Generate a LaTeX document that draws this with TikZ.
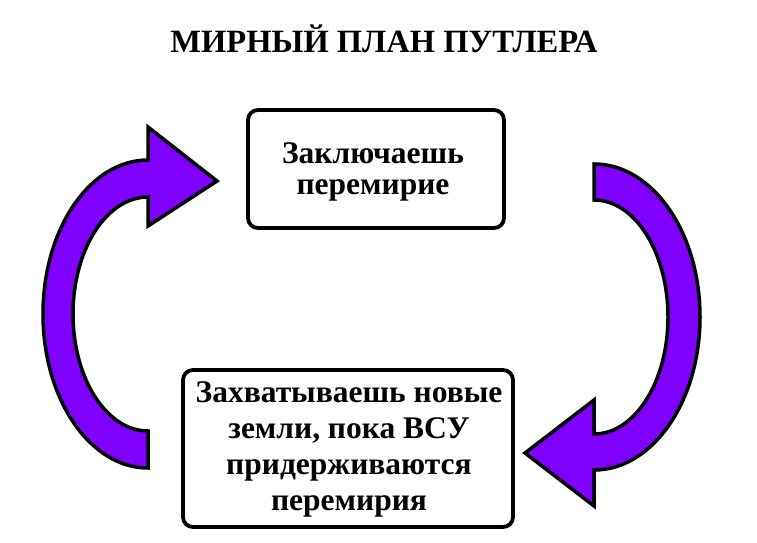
\documentclass[tikz,border=0pt]{standalone}
\usepackage{fontspec}
\setmainfont{Liberation Serif}
\definecolor{arrowpurple}{RGB}{128,0,255}
\tikzset{
  cyclearrow/.style={fill=arrowpurple, draw=black, line width=3.5pt, line join=miter},
  stepbox/.style={draw=black, line width=3.8pt, rounded corners=10pt, fill=white, align=center, inner sep=0pt},
  boxtext/.style={font=\fontsize{31.5}{31}\selectfont\bfseries},
  titletext/.style={font=\fontsize{32.5}{34}\selectfont\bfseries}
}
\begin{document}
\begin{tikzpicture}[x=1pt,y=1pt]
\fill[white] (0,0) rectangle (757,542);
\useasboundingbox (0,0) rectangle (757,542);

% title
\node[titletext] (title) at (384,503) {МИРНЫЙ ПЛАН ПУТЛЕРА};

% boxes
\node[stepbox, minimum width=256pt, minimum height=118pt] (top) at (376,373) {};
\node[boxtext, align=center] (toptext) at (373,370) {Заключаешь\\перемирие};

\node[stepbox, minimum width=330pt, minimum height=157pt] (bottom) at (348,93.5) {};
\node[boxtext, align=center, font=\fontsize{31.5}{36}\selectfont\bfseries] (bottomtext) at (349,93) {Захватываешь новые\\земли, пока ВСУ\\придерживаются\\перемирия};

% left arrow
\draw[cyclearrow] (148,74)
  arc[start angle=270, end angle=90, x radius=105, y radius=154]
  -- (148,415) -- (217,361) -- (148,316) -- (148,345)
  arc[start angle=90, end angle=270, x radius=75, y radius=117]
  -- cycle;

% right arrow
\draw[cyclearrow] (594,378)
  arc[start angle=90, end angle=-90, x radius=106, y radius=153]
  -- (594,36) -- (525,89) -- (594,142) -- (594,108)
  arc[start angle=-90, end angle=90, x radius=74, y radius=117]
  -- cycle;
\end{tikzpicture}
\end{document}
